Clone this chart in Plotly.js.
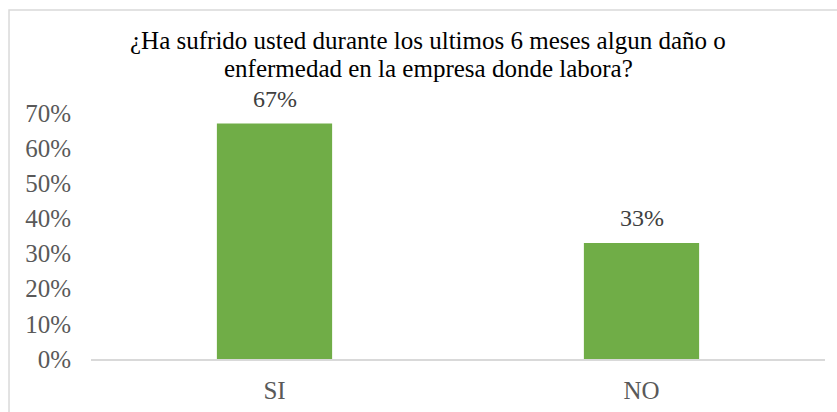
<!DOCTYPE html>
<html>
<head>
<meta charset="utf-8">
<script src="https://cdn.plot.ly/plotly-3.0.1.min.js"></script>
<style>html,body{margin:0;padding:0;background:#fff;}#chart{width:837px;height:412px;}</style>
</head>
<body>
<div id="chart"></div>
<script>
const categories = ["SI", "NO"];
const values = [0.67, 0.33];
const labels = ["67%", "33%"];
const titleLines = ["¿Ha sufrido usted durante los ultimos 6 meses algun daño o", "enfermedad en la empresa donde labora?"];

const serif = 'Liberation Serif';

const trace = {
  type: 'bar',
  x: categories,
  y: values,
  marker: {color: '#70AD47'},
  hoverinfo: 'none'
};

const annotations = categories.map((c, i) => ({
  x: c, y: values[i], xref: 'x', yref: 'y',
  text: labels[i], showarrow: false,
  yanchor: 'bottom', yshift: 10,
  font: {family: serif, size: 24, color: '#404040'}
}));

const titleY = [1.2967, 1.1809];
titleLines.forEach((t, i) => annotations.push({
  x: 0.4598, y: titleY[i], xref: 'paper', yref: 'paper',
  xanchor: 'center', yanchor: 'middle',
  text: t, showarrow: false,
  font: {family: serif, size: 25, color: '#000'}
}));

const layout = {
  width: 837, height: 412,
  margin: {l: 91, r: 12, t: 113, b: 53},
  paper_bgcolor: '#fff', plot_bgcolor: '#fff',
  font: {family: serif, size: 25, color: '#595959'},
  bargap: 0.686,
  showlegend: false,
  xaxis: {
    showline: true, linecolor: '#d9d9d9', linewidth: 1.5,
    showgrid: false, zeroline: false, ticks: '',
    tickfont: {family: serif, size: 25, color: '#595959'},
    ticklabelstandoff: 8
  },
  yaxis: {
    range: [0, 0.7], dtick: 0.1, tickformat: '.0%',
    showgrid: false, zeroline: false, showline: false, ticks: '',
    tickfont: {family: serif, size: 25, color: '#595959'},
    ticklabelstandoff: 19
  },
  annotations: annotations,
  shapes: [{
    type: 'rect', xref: 'paper', yref: 'paper',
    x0: -0.1117, x1: 1.03, y0: -0.25, y1: 1.4187,
    line: {color: '#d9d9d9', width: 1.5}, fillcolor: 'rgba(0,0,0,0)', layer: 'below'
  }]
};

Plotly.newPlot('chart', [trace], layout, {staticPlot: true, displayModeBar: false});
</script>
</body>
</html>
